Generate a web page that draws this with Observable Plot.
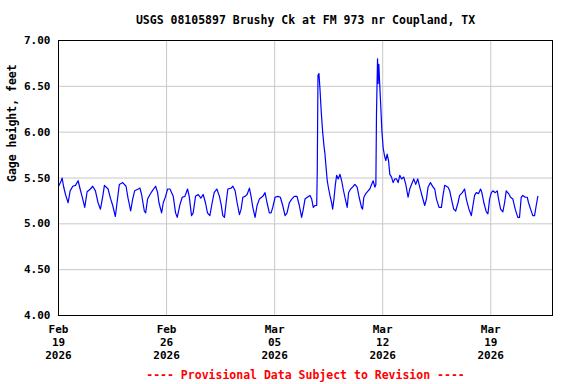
<!DOCTYPE html>
<html>
<head>
<meta charset="utf-8">
<script src="https://cdn.jsdelivr.net/npm/d3@7"></script>
<script src="https://cdn.jsdelivr.net/npm/@observablehq/plot@0.6"></script>
<style>
  html, body { margin: 0; padding: 0; background: #fff; }
</style>
</head>
<body>
<div id="chart"></div>
<script>
const titleText = "USGS 08105897 Brushy Ck at FM 973 nr Coupland, TX";
const yLabel = "Gage height, feet";
const captionText = "---- Provisional Data Subject to Revision ----";

const startDate = new Date(Date.UTC(2026, 1, 19));
const endDate = new Date(Date.UTC(2026, 2, 23));
const xTickDates = ["2026-02-19", "2026-02-26", "2026-03-05", "2026-03-12", "2026-03-19"];
const yTicks = [4.0, 4.5, 5.0, 5.5, 6.0, 6.5, 7.0];

// hours since Feb 19 2026 00:00
const hoursSinceStart = [
  0, 3.1, 5.7, 7.8, 10.9, 15, 18.1, 22.2, 26.4, 30.5, 33.6, 37.7, 40.8, 44.5, 49.6, 53.2, 57.4, 61.5, 65.2, 68.8,
  71.4, 77.1, 80.7, 84.3, 88.4, 91, 94.6, 99.8, 105, 108.1, 112.2, 115.3, 118.4,
  124.1, 126.7, 129.2, 133.4, 135.5, 138.5, 142.2, 145.8, 151, 154.1, 156.2, 160.3, 162.9, 166.5, 169.6, 173.3,
  175.9, 178.4, 182, 184.6, 188.8, 192.4, 196.5, 200.6, 203.2, 206.8, 209.4, 213, 217.2, 221.3, 224.9, 228.5,
  231.6, 235.3, 238.9, 242, 246.2, 250.2,
  252.9, 255.5, 258, 260.6, 263.3, 268.4, 271, 274.6, 277.7, 281.3, 283.9, 286.6, 290.1, 293.2, 296.8, 299.4,
  302.1, 305.6, 308.7, 312.3, 317.6, 321.1, 324.2, 327.8, 330.5, 333.1, 336.7, 340.8, 344.9, 348.6, 352.2, 355.3,
  358.9, 362.6, 366.6, 370.8, 374.4,
  378.0, 380.6, 383.2, 386.8, 391, 393.6, 396.1, 398.7, 401.4, 402.3, 403.4, 404.9, 406.5, 408.5, 410.7, 412.7,
  414.3, 415.8, 417.8, 420.0, 422, 424.6, 426.2, 428.2, 430.3, 432.4, 434.9, 437.6, 440.2, 442.6, 445.3, 448.8,
  451, 454.1, 457.2, 460.7, 464.3, 467.4,
  471.1, 472.7, 474.7, 477.8, 481.4, 484, 486.7, 489.2, 491.8, 493.4, 494.4, 496, 496.9, 498, 499.6, 501.1, 502.7,
  504.7, 506.9, 508.9, 510.9, 513.1, 515.1, 517.8, 520.2, 522.9, 525.5, 528, 530.6, 533.3, 536.8, 539.9, 543.5,
  546.1, 548.8, 552.3, 555.4, 558.5, 561.6, 565.8, 569.3, 572, 574.5, 578.2, 582.3, 584.9, 587.6, 591.6, 595.3,
  597.8, 600.4, 605.6, 608.2, 610.9, 614.4, 617.5, 621.1, 623.6, 627.8, 631.4, 634.0, 638.1, 641.8, 644.3,
  646.9, 649.5, 653.1, 656.2, 658.2, 661.3, 665.1, 667.6, 670.2, 672.9, 675.3, 679, 682.1, 684.2, 687.3, 690.8,
  693.5, 696.1, 699.7, 702.8, 706.4, 710.0, 714.1, 716.7, 719.4, 721.9, 725.6, 728.7, 730.8, 733.9, 737.4, 740.1,
  742.7, 745.2
];

const gageFeet = [
  5.41, 5.45, 5.50, 5.41, 5.32, 5.23, 5.36, 5.41, 5.42, 5.47, 5.38, 5.27, 5.18, 5.35, 5.38, 5.41, 5.36, 5.23, 5.16, 5.30,
  5.42, 5.38, 5.28, 5.20, 5.08, 5.23, 5.43, 5.45, 5.41, 5.28, 5.14, 5.27, 5.36,
  5.38, 5.39, 5.32, 5.14, 5.12, 5.27, 5.32, 5.36, 5.41, 5.34, 5.23, 5.12, 5.23, 5.30, 5.38, 5.38,
  5.34, 5.30, 5.12, 5.07, 5.21, 5.29, 5.30, 5.38, 5.30, 5.09, 5.12, 5.30, 5.32, 5.28, 5.32, 5.23,
  5.12, 5.09, 5.23, 5.34, 5.38, 5.30,
  5.21, 5.09, 5.07, 5.23, 5.38, 5.39, 5.41, 5.36, 5.23, 5.10, 5.16, 5.29, 5.30, 5.32, 5.39, 5.30,
  5.18, 5.07, 5.20, 5.27, 5.30, 5.34, 5.23, 5.12, 5.12, 5.18, 5.29, 5.30, 5.29, 5.20, 5.09, 5.12,
  5.23, 5.27, 5.30, 5.30, 5.20,
  5.07, 5.16, 5.27, 5.29, 5.31, 5.27, 5.18, 5.20, 5.20, 5.58, 6.62, 6.64, 6.47, 6.22, 6.00, 5.85,
  5.76, 5.63, 5.47, 5.38, 5.31, 5.23, 5.16, 5.27, 5.42, 5.53, 5.49, 5.54, 5.47, 5.38, 5.29, 5.18,
  5.34, 5.38, 5.40, 5.43, 5.40, 5.29,
  5.18, 5.16, 5.29, 5.33, 5.36, 5.38, 5.43, 5.47, 5.40, 5.43, 6.22, 6.80, 6.53, 6.74, 6.49, 6.27, 6.02,
  5.83, 5.74, 5.69, 5.76, 5.69, 5.54, 5.51, 5.45, 5.49, 5.49, 5.45, 5.53, 5.49, 5.51, 5.43, 5.29,
  5.38, 5.43, 5.49, 5.43, 5.49, 5.40, 5.29, 5.20, 5.27, 5.40, 5.45, 5.40, 5.38, 5.27, 5.18, 5.18,
  5.31, 5.42, 5.40, 5.36, 5.27, 5.16, 5.14, 5.23, 5.31, 5.34, 5.38, 5.27, 5.16, 5.09, 5.20,
  5.31, 5.34, 5.33, 5.38, 5.34, 5.23, 5.13, 5.11, 5.27, 5.34, 5.36, 5.34, 5.36, 5.27, 5.16, 5.13,
  5.23, 5.36, 5.33, 5.29, 5.27, 5.16, 5.07, 5.07, 5.29, 5.31, 5.29, 5.29, 5.23, 5.16, 5.09, 5.09,
  5.20, 5.30
];

const series = hoursSinceStart.map((h, i) => ({
  date: new Date(startDate.getTime() + h * 3600 * 1000),
  value: gageFeet[i]
}));
const xTicks = xTickDates.map(s => new Date(s + "T00:00:00Z"));
const fmt = d3.utcFormat("%b\n%d\n%Y");

const chart = Plot.plot({
  width: 576,
  height: 384,
  marginLeft: 58,
  marginRight: 24,
  marginTop: 40,
  marginBottom: 69,
  style: {
    fontFamily: "'DejaVu Sans Mono', monospace",
    fontSize: "11px",
    fontWeight: "bold",
    color: "black",
    background: "white"
  },
  x: { type: "utc", domain: [startDate, endDate] },
  y: { domain: [4, 7] },
  marks: [
    Plot.ruleY(yTicks.slice(1, -1), { stroke: "#c8c8c8", strokeWidth: 1 }),
    Plot.ruleX(xTicks.slice(1), { stroke: "#c8c8c8", strokeWidth: 1 }),
    Plot.line(series, { x: "date", y: "value", stroke: "#0000ff", strokeWidth: 1.2 }),
    Plot.frame({ stroke: "black", strokeWidth: 1 }),
    Plot.axisY({ ticks: yTicks, tickFormat: d3.format(".2f"), tickSize: 0, tickPadding: 8, label: null, fontWeight: "bold" }),
    Plot.axisX({ ticks: xTicks, tickFormat: fmt, tickSize: 0, tickPadding: 8, label: null, lineHeight: 1.2, fontWeight: "bold" }),
    Plot.text([titleText], { frameAnchor: "top", dy: -20, lineAnchor: "middle", fontSize: 11.5, fontWeight: "bold" }),
    Plot.text([yLabel], { frameAnchor: "left", dx: -46, dy: 4, rotate: -90, lineAnchor: "middle", fontSize: 11.5, fontWeight: "bold" }),
    Plot.text([captionText], { frameAnchor: "bottom", dy: 60, lineAnchor: "middle", fill: "red", fontSize: 11.5, fontWeight: "bold" })
  ]
});
document.getElementById("chart").appendChild(chart);
</script>
</body>
</html>
